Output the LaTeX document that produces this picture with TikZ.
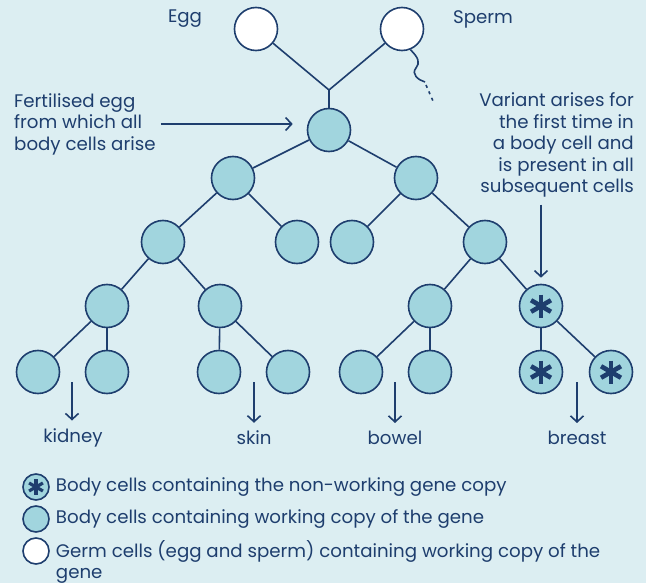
\documentclass[tikz,border=0pt]{standalone}
\usepackage{fontspec}
\setmainfont{Poppins}
\usetikzlibrary{positioning,arrows.meta,calc}
\definecolor{navy}{HTML}{1E3E6E}
\definecolor{cellblue}{HTML}{A1D5DE}
\definecolor{bgblue}{HTML}{DCEEF2}

\begin{document}
\begin{tikzpicture}[
    x=1pt, y=1pt,
    cell/.style={circle, draw=navy, fill=cellblue, line width=1.6pt, minimum size=43pt, inner sep=0pt},
    germ/.style={cell, fill=white},
    variant/.style={path picture={
        \foreach \a in {90,30,150}
            \draw[navy, line width=#1*0.4pt] ($(path picture bounding box.center)+(\a:#1)$) -- ($(path picture bounding box.center)+(\a+180:#1)$);}},
    link/.style={draw=navy, line width=1.6pt},
    arrow/.style={-{Straight Barb[length=6pt,width=13pt]}, draw=navy, line width=1.6pt},
    lbl/.style={font=\fontsize{18.2}{21.5}\selectfont, text=navy, inner sep=0pt}
]
    \fill[bgblue] (0,0) rectangle (646,-583);
    \useasboundingbox (0,0) rectangle (646,-583);

    % germ cells and fertilised egg
    \node[germ] (egg) at (256,-29) {};
    \node[germ] (sperm) at (402,-29) {};
    \coordinate (fuse) at (329,-90);
    \node[cell] (zyg) at (329,-130) {};

    % body cells
    \node[cell] (a) at (233,-178) {};
    \node[cell] (b) at (416,-178) {};
    \node[cell] (aa) at (163,-242) {};
    \node[cell] (ab) at (297,-242) {};
    \node[cell] (ba) at (352,-242) {};
    \node[cell] (bb) at (485,-242) {};
    \node[cell] (aaa) at (107,-306) {};
    \node[cell] (aab) at (220,-306) {};
    \node[cell] (bba) at (430,-306) {};
    \node[cell, variant=11.5] (bbb) at (541,-306) {};
    \node[cell] (kid1) at (38,-372) {};
    \node[cell] (kid2) at (107,-372) {};
    \node[cell] (skin1) at (219,-372) {};
    \node[cell] (skin2) at (288,-372) {};
    \node[cell] (bow1) at (361,-372) {};
    \node[cell] (bow2) at (430,-372) {};
    \node[cell, variant=11.5] (br1) at (541,-372) {};
    \node[cell, variant=11.5] (br2) at (611,-372) {};

    \draw[link] (egg) -- (fuse) -- (sperm);
    \draw[link] (fuse) -- (zyg);
    \foreach \p/\c in {zyg/a, zyg/b, a/aa, a/ab, b/ba, b/bb, aa/aaa, aa/aab, bb/bba, bb/bbb,
                       aaa/kid1, aaa/kid2, aab/skin1, aab/skin2, bba/bow1, bba/bow2, bbb/br1, bbb/br2}
        \draw[link] (\p) -- (\c);

    % sperm tail
    \draw[link] (sperm.-68) .. controls (419,-58) and (420,-63) .. (416,-68)
        .. controls (411,-74) and (418,-80) .. (425,-82);
    \draw[link, dash pattern=on 3pt off 4pt] (426,-85) -- (433,-101);

    \node[lbl] (egglbl) at (185,-19) {Egg};
    \node[lbl] (spermlbl) at (483,-19) {Sperm};

    % annotations
    \node[lbl, align=left, anchor=west] (fert) at (14,-124) {Fertilised egg\\from which all\\body cells arise};
    \draw[arrow, shorten <=5pt, shorten >=14pt] (fert.east) -- (fert.east -| zyg.west);

    \node[lbl, align=right, anchor=east] (var) at (634,-145) {Variant arises for\\the first time in\\a body cell and\\is present in all\\subsequent cells};
    \draw[arrow, shorten <=7pt, shorten >=6pt] (var.south -| bbb.north) -- (bbb.north);

    % tissues
    \coordinate (kidtop) at (72,-382);
    \coordinate (skintop) at (254,-382);
    \coordinate (bowtop) at (395,-382);
    \coordinate (brtop) at (577,-382);
    \node[lbl] (kidney) at (73,-438) {kidney};
    \node[lbl] (skin) at (254,-438) {skin};
    \node[lbl] (bowel) at (395,-438) {bowel};
    \node[lbl] (breast) at (577,-438) {breast};
    \foreach \t/\l in {kidtop/kidney, skintop/skin, bowtop/bowel, brtop/breast}
        \draw[arrow, shorten >=8pt] (\t) -- (\t |- \l.north);

    % legend
    \node[cell, minimum size=26pt, variant=8] (key1) at (36,-487) {};
    \node[cell, minimum size=26pt] (key2) at (36,-519) {};
    \node[germ, minimum size=26pt] (key3) at (36,-551) {};
    \node[lbl, right=6pt of key1] (keytxt1) {Body cells containing the non-working gene copy};
    \node[lbl, right=6pt of key2] (keytxt2) {Body cells containing working copy of the gene};
    \node[lbl, align=left, right=6pt of key3, yshift=-11pt] (keytxt3) {Germ cells (egg and sperm) containing working copy of the\\gene};
\end{tikzpicture}
\end{document}
